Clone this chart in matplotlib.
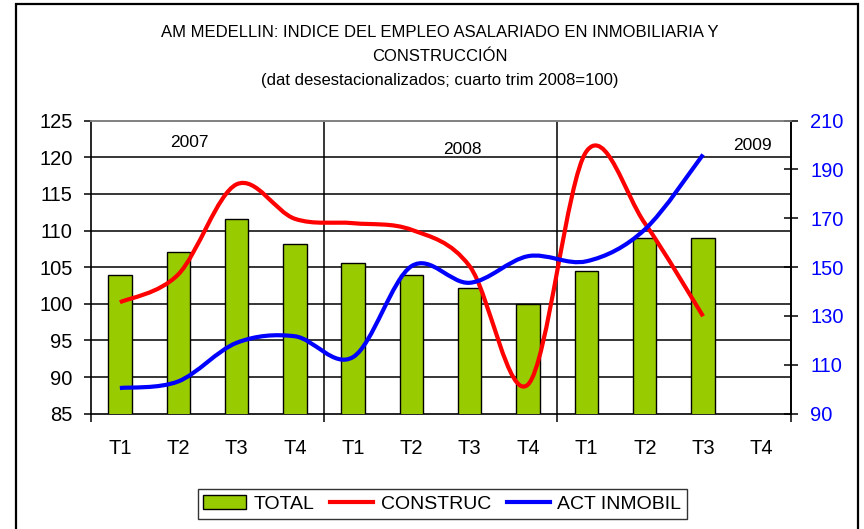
import matplotlib
matplotlib.use("Agg")
import matplotlib.pyplot as plt
import numpy as np
from matplotlib.lines import Line2D
from matplotlib.patches import Patch, PathPatch, Rectangle
from matplotlib.path import Path

QUARTERS = ["T1", "T2", "T3", "T4"] * 3
YEARS = ["2007", "2008", "2009"]

# TOTAL (left axis), 11 quarters from 2007-T1 to 2009-T3
TOTAL = [103.9, 107.0, 111.6, 108.2, 105.6, 103.9, 102.2, 100.0, 104.5, 109.0, 109.0]
# CONSTRUC (left axis)
CONSTRUC = [100.2, 104.0, 116.3, 111.6, 111.0, 110.1, 105.1, 89.0, 120.8, 111.0, 98.3]
# ACT INMOBIL (right axis)
ACT_INMOBIL = [100.5, 103.2, 119.0, 121.7, 113.2, 150.4, 143.6, 154.5, 152.4, 165.4, 196.1]

LEFT_TICKS = np.arange(85, 126, 5)
RIGHT_TICKS = np.arange(90, 211, 20)

GREEN = "#99CC00"
FONT = "Liberation Sans"


def smooth_path(xs, ys):
    # Excel-style smoothed line: cubic Bezier through every point
    n = len(xs)
    verts = [(xs[0], ys[0])]
    codes = [Path.MOVETO]
    for i in range(n - 1):
        a = i - 1 if i > 0 else i
        d = i + 2 if i + 2 < n else i + 1
        c1 = (xs[i] + (xs[i + 1] - xs[a]) / 6, ys[i] + (ys[i + 1] - ys[a]) / 6)
        c2 = (xs[i + 1] - (xs[d] - xs[i]) / 6, ys[i + 1] - (ys[d] - ys[i]) / 6)
        verts += [c1, c2, (xs[i + 1], ys[i + 1])]
        codes += [Path.CURVE4] * 3
    return Path(verts, codes)


plt.rcParams["font.family"] = FONT

fig = plt.figure(figsize=(8.64, 5.29), dpi=100)
ax = fig.add_axes([0.105, 0.218, 0.81, 0.554])
ax2 = ax.twinx()

x = np.arange(len(TOTAL))
ax.bar(x, TOTAL, 0.4, color=GREEN, edgecolor="black", linewidth=1.0, zorder=3)

for v in LEFT_TICKS[1:-1]:
    ax.axhline(v, color="black", linewidth=1.1, zorder=1)
for sep in (3.5, 7.5):
    ax.axvline(sep, color="black", linewidth=1.1, zorder=1)

ax.add_patch(PathPatch(smooth_path(x, CONSTRUC), fill=False, edgecolor="#FF0000",
                       linewidth=3, capstyle="butt", zorder=4))
ax2.add_patch(PathPatch(smooth_path(x, ACT_INMOBIL), fill=False, edgecolor="#0000FF",
                        linewidth=3, capstyle="butt", zorder=4))

ax.set_xlim(-0.5, len(QUARTERS) - 0.5)
ax.set_ylim(85, 125)
ax2.set_ylim(90, 210)

ax.set_yticks(LEFT_TICKS)
ax.tick_params(axis="y", direction="out", length=5, width=1.1, labelsize=14.5, pad=8)
ax2.set_yticks(RIGHT_TICKS)
ax2.tick_params(axis="y", direction="inout", length=10, width=1.1, labelsize=14.5,
                labelcolor="#0000FF", pad=9)

ax.set_xticks([-0.5, 3.5, 7.5, 11.5])
ax.set_xticklabels([])
ax.set_xticks(np.arange(len(QUARTERS)), minor=True)
ax.set_xticklabels(QUARTERS, minor=True)
ax.tick_params(axis="x", which="major", direction="out", length=6, width=1.1)
ax.tick_params(axis="x", which="minor", length=0, labelsize=14.5, pad=18)

for a in (ax, ax2):
    for s in ("left", "right", "bottom"):
        a.spines[s].set_color("black")
        a.spines[s].set_linewidth(1.2)
    a.spines["top"].set_color("#808080")
    a.spines["top"].set_linewidth(1.2)
ax2.spines["left"].set_visible(False)
ax2.spines["bottom"].set_visible(False)

year_x = [1.2, 5.88, 10.84]
year_y = [122.0, 121.1, 121.6]
for yx, yy, lab in zip(year_x, year_y, YEARS):
    ax.text(yx, yy, lab, ha="center", va="center", fontsize=12.5, zorder=5)

fig.text(0.509, 0.952,
         "AM MEDELLIN: INDICE DEL EMPLEO ASALARIADO EN INMOBILIARIA Y\nCONSTRUCCIÓN\n"
         "(dat desestacionalizados; cuarto trim 2008=100)",
         ha="center", va="top", fontsize=12, linespacing=1.72)

handles = [
    Patch(facecolor=GREEN, edgecolor="black", linewidth=1.0),
    Line2D([], [], color="#FF0000", linewidth=3),
    Line2D([], [], color="#0000FF", linewidth=3),
]
leg = fig.legend(handles, ["TOTAL", "CONSTRUC", "ACT INMOBIL"], loc="center",
                 bbox_to_anchor=(0.512, 0.047), ncol=3, fontsize=14, frameon=True,
                 fancybox=False, edgecolor="black", borderpad=0.3, handlelength=2.2,
                 handletextpad=0.4, columnspacing=0.8)
leg.get_frame().set_linewidth(1.0)

fig.patches.append(Rectangle((16 / 864, -0.05), 842 / 864, 1.05 - 4 / 529,
                             transform=fig.transFigure, fill=False,
                             edgecolor="black", linewidth=1.6))

fig.savefig("out.png", dpi=100)
